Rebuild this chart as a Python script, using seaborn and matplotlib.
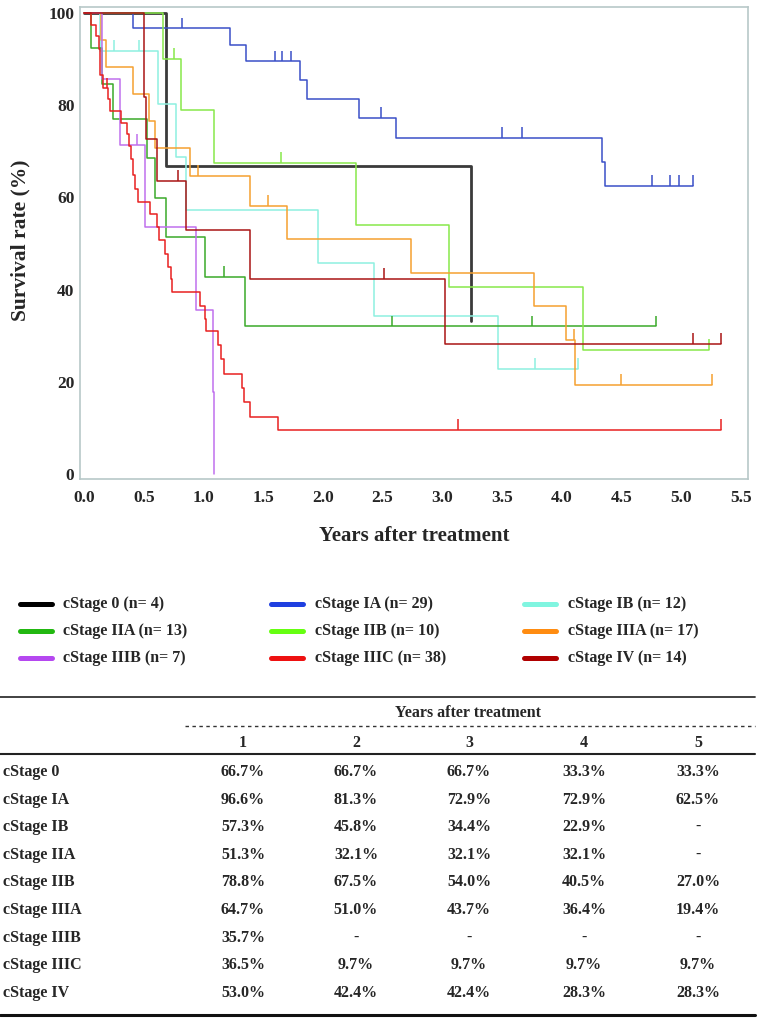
import numpy as np
import pandas as pd
import matplotlib
matplotlib.use("Agg")
import matplotlib.pyplot as plt
import seaborn as sns
from matplotlib.lines import Line2D

# ---------------- data ----------------
stages = ["cStage 0", "cStage IA", "cStage IB", "cStage IIA", "cStage IIB",
          "cStage IIIA", "cStage IIIB", "cStage IIIC", "cStage IV"]
n_patients = [4, 29, 12, 13, 10, 17, 7, 38, 14]

t_0 = [0, 0.69, 3.24]
s_0 = [100, 66.7, 33.3]
c_0 = []

t_IA = [0, 0.41, 1.22, 1.36, 1.81, 1.87, 2.30, 2.61, 4.34, 4.36, 5.10]
s_IA = [100, 96.6, 92.9, 89.4, 85.3, 81.3, 77.2, 72.9, 67.7, 62.5, 62.5]
c_IA = [0.82, 1.60, 1.66, 1.73, 2.49, 3.50, 3.67, 4.76, 4.91, 4.98, 5.10]

t_IB = [0, 0.13, 0.62, 0.77, 0.85, 1.96, 2.43, 3.47, 4.14]
s_IB = [100, 91.7, 80.2, 68.8, 57.3, 45.8, 34.4, 22.9, 22.9]
c_IB = [0.14, 0.25, 0.46, 3.78, 4.14]

t_IIA = [0, 0.056, 0.15, 0.245, 0.53, 0.59, 0.69, 1.01, 1.35, 4.79]
s_IIA = [100, 92.3, 84.6, 76.9, 68.4, 59.8, 51.3, 42.8, 32.1, 32.1]
c_IIA = [1.17, 2.58, 3.75, 4.79]

t_IIB = [0, 0.66, 0.81, 1.09, 2.28, 3.06, 4.18, 5.23]
s_IIB = [100, 90.0, 78.8, 67.5, 54.0, 40.5, 27.0, 27.0]
c_IIB = [0.75, 1.65, 5.23]

t_IIIA = [0, 0.14, 0.18, 0.41, 0.54, 0.59, 0.89, 1.39, 1.70, 2.74, 3.77, 4.04, 4.11, 5.26]
s_IIIA = [100, 94.1, 88.2, 82.4, 76.5, 70.6, 64.7, 58.2, 51.0, 43.7, 36.4, 29.1, 19.4, 19.4]
c_IIIA = [0.95, 1.54, 4.10, 4.50, 5.26]

t_IIIB = [0, 0.15, 0.30, 0.51, 0.94, 1.08, 1.09]
s_IIIB = [100, 85.7, 71.4, 53.6, 35.7, 17.9, 0]
c_IIIB = [0.44]

t_IIIC = [0, 0.056, 0.10, 0.126, 0.134, 0.16, 0.20, 0.22, 0.31, 0.36, 0.38, 0.39,
          0.41, 0.43, 0.45, 0.55, 0.61, 0.63, 0.68, 0.70, 0.73, 0.74, 0.97, 1.01,
          1.02, 1.12, 1.15, 1.17, 1.32, 1.34, 1.39, 1.62, 5.33]
s_IIIC = [100, 97.4, 94.9, 92.2, 86.5, 83.6, 81.3, 78.6, 76.0, 73.8, 71.2, 68.3,
          64.9, 61.9, 59.0, 56.4, 53.5, 50.7, 47.8, 44.9, 42.3, 39.4, 36.5, 33.6,
          31.0, 28.0, 24.9, 21.8, 18.7, 15.6, 12.5, 9.7, 9.7]
c_IIIC = [0.19, 3.13, 5.33]

t_IV = [0, 0.50, 0.52, 0.61, 0.85, 1.39, 3.02, 5.33]
s_IV = [100, 81.8, 72.7, 63.6, 53.0, 42.4, 28.3, 28.3]
c_IV = [0.79, 2.51, 5.10, 5.33]

times = [t_0, t_IA, t_IB, t_IIA, t_IIB, t_IIIA, t_IIIB, t_IIIC, t_IV]
survs = [s_0, s_IA, s_IB, s_IIA, s_IIB, s_IIIA, s_IIIB, s_IIIC, s_IV]
censors = [c_0, c_IA, c_IB, c_IIA, c_IIB, c_IIIA, c_IIIB, c_IIIC, c_IV]

x_ticks = [0.0, 0.5, 1.0, 1.5, 2.0, 2.5, 3.0, 3.5, 4.0, 4.5, 5.0, 5.5]
y_ticks = [0, 20, 40, 60, 80, 100]

table_years = ["1", "2", "3", "4", "5"]
year1 = ["66.7%", "96.6%", "57.3%", "51.3%", "78.8%", "64.7%", "35.7%", "36.5%", "53.0%"]
year2 = ["66.7%", "81.3%", "45.8%", "32.1%", "67.5%", "51.0%", "-", "9.7%", "42.4%"]
year3 = ["66.7%", "72.9%", "34.4%", "32.1%", "54.0%", "43.7%", "-", "9.7%", "42.4%"]
year4 = ["33.3%", "72.9%", "22.9%", "32.1%", "40.5%", "36.4%", "-", "9.7%", "28.3%"]
year5 = ["33.3%", "62.5%", "-", "-", "27.0%", "19.4%", "-", "9.7%", "28.3%"]

# ---------------- style ----------------
line_colors = ["#3a3a3a", "#3a50c8", "#8ef0e0", "#3aaa2a", "#88e84a",
               "#f5a030", "#c070ee", "#e82020", "#aa1515"]
legend_colors = ["#000000", "#1f3fe0", "#80f5e0", "#22b811", "#66ff11",
                 "#ff8c11", "#b548f0", "#ee1111", "#b00000"]
line_widths = [2.0, 1.1, 1.1, 1.1, 1.1, 1.1, 1.1, 1.1, 1.1]

sns.set_style("white")
plt.rcParams["font.family"] = ["Liberation Serif", "DejaVu Serif"]
plt.rcParams["font.weight"] = "bold"

W, H = 765, 1018
fig = plt.figure(figsize=(W / 100, H / 100), dpi=100)


def fx(x):
    return x / W


def fy(y):
    return 1 - y / H


ax = fig.add_axes([fx(80), fy(479), 668 / W, 472 / H])

for i, st in enumerate(stages):
    df = pd.DataFrame({"time": times[i], "surv": survs[i]})
    sns.lineplot(data=df, x="time", y="surv", ax=ax, color=line_colors[i],
                 lw=line_widths[i], drawstyle="steps-post", estimator=None,
                 sort=False, legend=False)
    t = np.asarray(times[i])
    s = np.asarray(survs[i])
    if len(censors[i]):
        c = np.asarray(censors[i])
        lvl = s[np.searchsorted(t, c, side="right") - 1]
        ax.vlines(c, lvl, lvl + 2.3, color=line_colors[i], lw=1.1)

ax.set_xlim(-0.034, 5.56)
ax.set_ylim(-1.0, 101.2)
ax.set_xticks(x_ticks)
ax.set_xticklabels([f"{v:.1f}" for v in x_ticks], fontsize=12.5, fontweight="bold")
ax.set_yticks(y_ticks)
ax.set_yticklabels([str(v) for v in y_ticks], fontsize=12.5, fontweight="bold")
ax.set_xlabel("")
ax.set_ylabel("")
for sp in ax.spines.values():
    sp.set_color("#b8c8c8")
    sp.set_linewidth(1.2)
ax.tick_params(axis="x", direction="out", length=5, width=1, color="#444444", pad=3)
ax.tick_params(axis="y", direction="out", length=3, width=1, color="#444444", pad=1)

fig.text(fx(414), fy(536), "Years after treatment", ha="center", va="center",
         fontsize=15, fontweight="bold")
fig.text(fx(20), fy(240), "Survival rate (%)", ha="center", va="center",
         rotation=90, fontsize=15.5, fontweight="bold")

# ---------------- legend ----------------
leg_rows = [604, 631, 658]
leg_sw = [20, 271, 524]
leg_tx = [63, 315, 568]
for i, st in enumerate(stages):
    r, c = divmod(i, 3)
    y = leg_rows[r]
    fig.add_artist(Line2D([fx(leg_sw[c]), fx(leg_sw[c] + 32)], [fy(y), fy(y)],
                          transform=fig.transFigure, color=legend_colors[i], lw=3.6))
    fig.text(fx(leg_tx[c]), fy(y), f"{st} (n= {n_patients[i]})", ha="left",
             va="center", fontsize=11.5, fontweight="bold")

# ---------------- table ----------------
fig.add_artist(Line2D([fx(0), fx(755)], [fy(697), fy(697)], transform=fig.transFigure,
                      color="#333333", lw=1.3))
fig.text(fx(468), fy(713), "Years after treatment", ha="center", va="center",
         fontsize=11.5, fontweight="bold")
fig.add_artist(Line2D([fx(185), fx(755)], [fy(726), fy(726)], transform=fig.transFigure,
                      color="#333333", lw=1.0, ls=(0, (2.5, 2.5))))
col_x = [243, 356, 469, 584, 698]
for j, lab in enumerate(table_years):
    fig.text(fx(col_x[j]), fy(743), lab, ha="center", va="center",
             fontsize=11.5, fontweight="bold")
fig.add_artist(Line2D([fx(0), fx(755)], [fy(754), fy(754)], transform=fig.transFigure,
                      color="#222222", lw=1.5))
cols = [year1, year2, year3, year4, year5]
for i, st in enumerate(stages):
    y = 772 + 27.6 * i
    fig.text(fx(3), fy(y), st, ha="left", va="center", fontsize=11.5, fontweight="bold")
    for j in range(5):
        fig.text(fx(col_x[j]), fy(y), cols[j][i], ha="center", va="center",
                 fontsize=11.5, fontweight="bold")
fig.add_artist(Line2D([fx(0), fx(755)], [fy(1015), fy(1015)], transform=fig.transFigure,
                      color="#111111", lw=2.2))

fig.savefig("out.png", dpi=100)
